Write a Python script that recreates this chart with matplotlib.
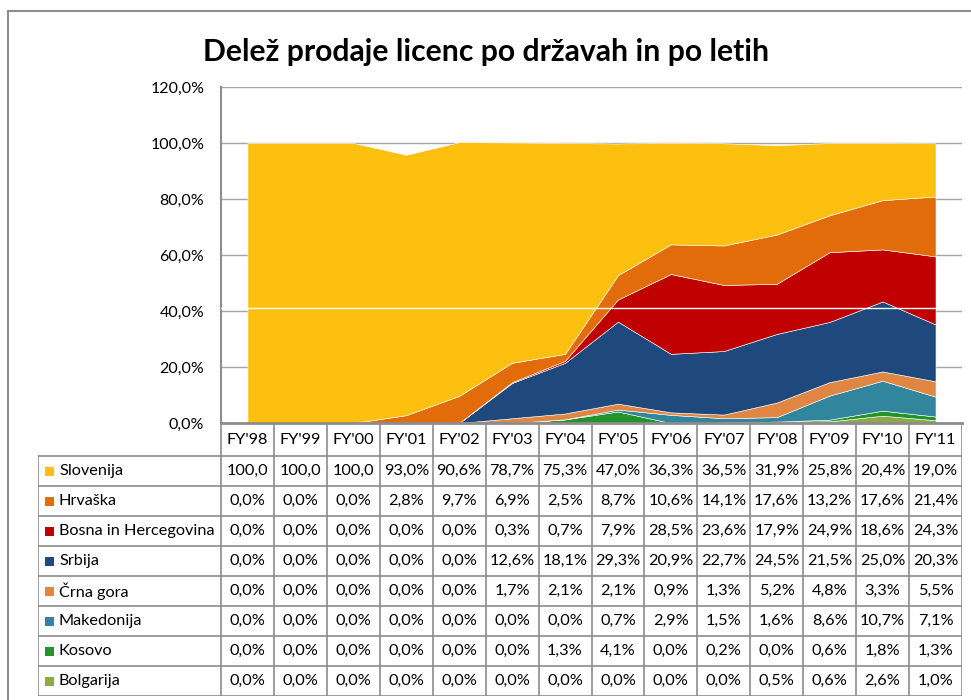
import numpy as np
import matplotlib.pyplot as plt
from matplotlib.lines import Line2D
from matplotlib.patches import Rectangle

plt.rcParams['font.family'] = ['Lato', 'DejaVu Sans']

# data (percent share by year)
years = ["FY'98", "FY'99", "FY'00", "FY'01", "FY'02", "FY'03", "FY'04",
         "FY'05", "FY'06", "FY'07", "FY'08", "FY'09", "FY'10", "FY'11"]
countries = ['Slovenija', 'Hrvaška', 'Bosna in Hercegovina', 'Srbija',
             'Črna gora', 'Makedonija', 'Kosovo', 'Bolgarija']
slovenija = [100.0, 100.0, 100.0, 93.0, 90.6, 78.7, 75.3, 47.0, 36.3, 36.5, 31.9, 25.8, 20.4, 19.0]
hrvaska = [0.0, 0.0, 0.0, 2.8, 9.7, 6.9, 2.5, 8.7, 10.6, 14.1, 17.6, 13.2, 17.6, 21.4]
bosna = [0.0, 0.0, 0.0, 0.0, 0.0, 0.3, 0.7, 7.9, 28.5, 23.6, 17.9, 24.9, 18.6, 24.3]
srbija = [0.0, 0.0, 0.0, 0.0, 0.0, 12.6, 18.1, 29.3, 20.9, 22.7, 24.5, 21.5, 25.0, 20.3]
crna_gora = [0.0, 0.0, 0.0, 0.0, 0.0, 1.7, 2.1, 2.1, 0.9, 1.3, 5.2, 4.8, 3.3, 5.5]
makedonija = [0.0, 0.0, 0.0, 0.0, 0.0, 0.0, 0.0, 0.7, 2.9, 1.5, 1.6, 8.6, 10.7, 7.1]
kosovo = [0.0, 0.0, 0.0, 0.0, 0.0, 0.0, 1.3, 4.1, 0.0, 0.2, 0.0, 0.6, 1.8, 1.3]
bolgarija = [0.0, 0.0, 0.0, 0.0, 0.0, 0.0, 0.0, 0.0, 0.0, 0.0, 0.5, 0.6, 2.6, 1.0]

series = [slovenija, hrvaska, bosna, srbija, crna_gora, makedonija, kosovo, bolgarija]
colors = ['#FDC00E', '#E36C0A', '#C00000', '#1F497D',
          '#DE8642', '#31859C', '#23932B', '#8DAA45']

W, H = 971, 700
fig = plt.figure(figsize=(W / 100, H / 100), dpi=100)

# pixel layout
ax_l, ax_r, ax_t, ax_b = 221, 962, 87, 423
tab_l, tab_b = 38, 696
row_h = 30
hdr_b = 456
gray = '#8c8c8c'

ax = fig.add_axes([ax_l / W, 1 - ax_b / H, (ax_r - ax_l) / W, (ax_b - ax_t) / H])
x = np.arange(len(years))
# stack from the bottom: last country first
ax.stackplot(x, *series[::-1], colors=colors[::-1], linewidth=0.4,
             edgecolor='white', alpha=1)
ax.axhline(41, color='white', lw=1, zorder=3)
ax.set_xlim(-0.5, len(years) - 0.5)
ax.set_ylim(0, 120)
ax.set_yticks(np.arange(0, 121, 20))
ax.set_yticklabels([f'{v:.1f}%'.replace('.', ',') for v in np.arange(0, 121, 20)],
                   fontsize=11.5)
ax.tick_params(axis='y', length=0, pad=12)
ax.set_xticks([])
ax.grid(axis='y', color='#a6a6a6', lw=1)
ax.set_axisbelow(True)
for s in ['top', 'right']:
    ax.spines[s].set_visible(False)
ax.spines['left'].set_color(gray)
ax.spines['left'].set_linewidth(1.5)
ax.spines['bottom'].set_color(gray)
ax.spines['bottom'].set_linewidth(2)
ax.spines['bottom'].set_zorder(4)

# data table below, sharing the category columns
colw = (ax_r - ax_l) / len(years)
tab = fig.add_axes([tab_l / W, 1 - tab_b / H, (ax_r - tab_l) / W, (tab_b - ax_b) / H])
tab.set_xlim(-0.5 - (ax_l - tab_l) / colw, len(years) - 0.5)
tab.set_ylim(tab_b, ax_b)
tab.axis('off')
x0 = -0.5 - (ax_l - tab_l) / colw

lkw = dict(color=gray, lw=1.2)
# vertical lines
for i in range(len(years) + 1):
    tab.plot([i - 0.5, i - 0.5], [ax_b, tab_b], **lkw)
tab.plot([x0, x0], [hdr_b, tab_b], **lkw)
# horizontal lines
for j in range(len(countries) + 1):
    yy = hdr_b + j * row_h
    tab.plot([x0, len(years) - 0.5], [yy, yy], **lkw)

fs = 11.7
for i, yr in enumerate(years):
    tab.text(i, (ax_b + hdr_b) / 2, yr, ha='center', va='center', fontsize=fs)


def fmt(v):
    s = f'{v:.1f}'.replace('.', ',') + '%'
    return s[:-1] if v >= 100 else s


for j, (name, vals, c) in enumerate(zip(countries, series, colors)):
    yc = hdr_b + j * row_h + row_h / 2
    tab.add_patch(Rectangle((x0 + 7 / colw, yc - 4.5), 9 / colw, 9,
                            color=c, lw=0))
    tab.text(x0 + 21 / colw, yc, name, ha='left', va='center', fontsize=fs)
    for i, v in enumerate(vals):
        tab.text(i, yc, fmt(v), ha='center', va='center', fontsize=fs)

# title
fig.text(486 / W, 1 - 61 / H, 'Delež prodaje licenc po državah in po letih',
         ha='center', va='baseline', fontsize=21.7, fontweight='bold')

# outer chart border
fig.add_artist(Line2D([8 / W, 8 / W], [0, 1 - 11 / H], color=gray, lw=1.5))
fig.add_artist(Line2D([8 / W, 1], [1 - 11 / H, 1 - 11 / H], color=gray, lw=1.5))

fig.savefig('out.png', dpi=100)
